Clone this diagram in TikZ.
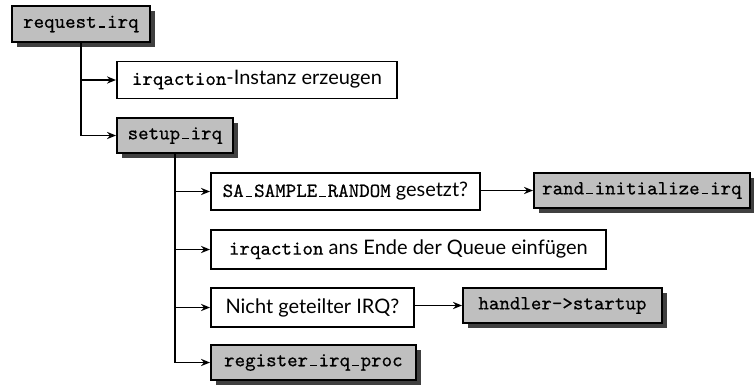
\documentclass[tikz,border=0pt]{standalone}
\usepackage{fontspec}
\setmainfont{Lato}
\setmonofont[FakeBold=0.5]{Latin Modern Mono}
\usetikzlibrary{arrows.meta,shadows}
\tikzset{
  box/.style={draw, line width=0.9pt, fill=white, anchor=west, inner sep=0pt,
    align=center, font=\fontsize{10}{12}\selectfont},
  fn/.style={box, fill=black!25, font=\fontsize{10}{12}\selectfont\ttfamily,
    drop shadow={shadow xshift=2.6pt, shadow yshift=-2.6pt, fill=black!75, opacity=1}},
  link/.style={line width=0.8pt, -{Stealth[length=4.5pt,width=3.6pt]}},
}
% short typewriter underscore bar, one character wide
\newcommand{\us}{\makebox[0.525em][c]{\rule{0.34em}{0.07em}}}
\begin{document}
\begin{tikzpicture}
\useasboundingbox (0,0) rectangle (377pt,-193pt);
\node[fn, minimum width=69pt, minimum height=18pt] (req) at (5.5pt,-12pt) {request\us irq};
\node[box, minimum width=140pt, minimum height=18.5pt] (inst) at (58pt,-40pt) {\texttt{irqaction}-Instanz erzeugen};
\node[fn, minimum width=58pt, minimum height=17.5pt] (setup) at (58pt,-67.75pt) {setup\us irq};
\node[box, minimum width=134.5pt, minimum height=18.5pt] (sa) at (105pt,-95.75pt) {\texttt{SA\us SAMPLE\us RANDOM} gesetzt?};
\node[fn, minimum width=108pt, minimum height=17.5pt] (rand) at (266.5pt,-95.25pt) {rand\us initialize\us irq};
\node[box, minimum width=197.5pt, minimum height=19.5pt] (ende) at (105pt,-124.75pt) {\texttt{irqaction} ans Ende der Queue einfügen};
\node[box, minimum width=101.5pt, minimum height=19.5pt] (shared) at (105pt,-153.75pt) {Nicht geteilter IRQ?};
\node[fn, minimum width=99.5pt, minimum height=17.5pt] (start) at (231pt,-152.75pt) {handler->startup};
\node[fn, minimum width=102.5pt, minimum height=17.5pt] (reg) at (105pt,-181.25pt) {register\us irq\us proc};

\draw[link] (req.south) |- (inst.west);
\draw[link] (req.south) |- (setup.west);
\draw[link] (setup.south) |- (sa.west);
\draw[link] (setup.south) |- (ende.west);
\draw[link] (setup.south) |- (shared.west);
\draw[link] (setup.south) |- (reg.west);
\draw[link] (sa.east |- rand.west) -- (rand.west);
\draw[link] (shared.east |- start.west) -- (start.west);
\end{tikzpicture}
\end{document}
